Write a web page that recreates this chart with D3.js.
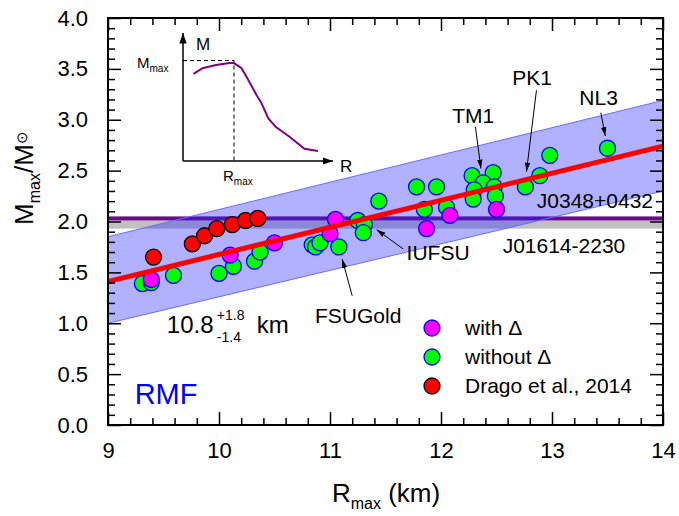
<!DOCTYPE html>
<html>
<head>
<meta charset="utf-8">
<script src="https://cdn.jsdelivr.net/npm/d3@7"></script>
<style>
  body { margin: 0; background: #fff; }
  svg text { font-family: Arial, "Liberation Sans", sans-serif; }
</style>
</head>
<body>
<svg id="chart" width="679" height="516"></svg>
<script>
// RMF models: [R_max (km), M_max/Msun]
var withDelta = [[9.39, 1.43], [10.10, 1.67], [10.50, 1.79], [11.00, 1.88], [11.05, 2.02],
    [11.87, 1.93], [12.08, 2.06], [12.50, 2.12]];
var withoutDelta = [[9.31, 1.39], [9.39, 1.40], [9.59, 1.47], [10.00, 1.49], [10.13, 1.56],
    [10.32, 1.61], [10.37, 1.70], [10.84, 1.77], [10.87, 1.75], [10.91, 1.79], [11.08, 1.75],
    [11.25, 2.01], [11.31, 1.97], [11.30, 1.89], [11.44, 2.20], [11.78, 2.34], [11.96, 2.34],
    [11.85, 2.12], [12.05, 2.14], [12.28, 2.45], [12.47, 2.48], [12.38, 2.38], [12.30, 2.31],
    [12.29, 2.22], [12.48, 2.34], [12.49, 2.25], [12.76, 2.34], [12.89, 2.45], [12.98, 2.65],
    [13.50, 2.72]];
var drago = [[9.41, 1.65], [9.76, 1.78], [9.87, 1.86], [9.98, 1.93], [10.12, 1.97],
    [10.24, 2.01], [10.35, 2.03]];

// linear fit and its band
var fitLine = [[9, 1.41], [14, 2.74]];
var bandUpper = [[9, 1.85], [14, 3.19]];
var bandLower = [[9, 1.00], [14, 2.30]];

// pulsar constraints (mass ranges)
var j1614 = [1.93, 2.01];
var j0348 = [2.01, 2.05];

// schematic M(R) curve for the inset, arbitrary units 0..10
var insetCurve = [[0.7, 6.8], [1.3, 7.25], [2.2, 7.5], [3.1, 7.65], [3.4, 7.65], [3.9, 7.25],
    [4.3, 6.45], [4.9, 5.15], [5.2, 4.6], [5.7, 3.3], [6.2, 2.65], [7.1, 1.9], [8.1, 0.95], [9.0, 0.78]];
var insetPeak = [3.4, 7.85];

var xMajor = [9, 10, 11, 12, 13, 14];
var yMajor = [0, 0.5, 1, 1.5, 2, 2.5, 3, 3.5, 4];

var svg = d3.select("#chart");
var x = d3.scaleLinear().domain([9, 14]).range([108, 663]);
var y = d3.scaleLinear().domain([0, 4]).range([425, 18]);

var defs = svg.append("defs");
defs.append("clipPath").attr("id", "clip").append("rect")
    .attr("x", 108).attr("y", 18).attr("width", 555).attr("height", 407);
defs.append("marker").attr("id", "arrow").attr("viewBox", "0 0 10 10")
    .attr("refX", 10).attr("refY", 5).attr("markerWidth", 7).attr("markerHeight", 7)
    .attr("orient", "auto").append("path").attr("d", "M0,1.5L10,5L0,8.5z").attr("fill", "#000");
defs.append("marker").attr("id", "bigarrow").attr("viewBox", "0 0 10 10")
    .attr("refX", 10).attr("refY", 5).attr("markerWidth", 9).attr("markerHeight", 9)
    .attr("markerUnits", "userSpaceOnUse")
    .attr("orient", "auto").append("path").attr("d", "M0,2L10,5L0,8z").attr("fill", "#000");

var plot = svg.append("g").attr("clip-path", "url(#clip)");

// horizontal constraints
plot.append("rect").attr("x", x(9)).attr("width", x(14) - x(9))
    .attr("y", y(j1614[1])).attr("height", y(j1614[0]) - y(j1614[1]))
    .attr("fill", "#c0c0c0");
plot.append("rect").attr("x", x(9)).attr("width", x(14) - x(9))
    .attr("y", y(j0348[1])).attr("height", y(j0348[0]) - y(j0348[1]))
    .attr("fill", "#6a0a8a");

// band
var band = bandUpper.concat(bandLower.slice().reverse());
plot.append("path")
    .attr("d", d3.line().x(function(d) { return x(d[0]); }).y(function(d) { return y(d[1]); })(band) + "Z")
    .attr("fill", "rgba(40,40,255,0.36)")
    .attr("stroke", "#6a6aff").attr("stroke-width", 1);

// points
function dots(data, fill, stroke) {
    plot.append("g").selectAll("circle")
        .data(data)
        .enter()
        .append("circle")
        .attr("cx", function(d) { return x(d[0]); })
        .attr("cy", function(d) { return y(d[1]); })
        .attr("r", 8)
        .attr("fill", fill)
        .attr("stroke", stroke)
        .attr("stroke-width", 1.3);
}
dots(withoutDelta, "#00ff00", "#0000ff");
dots(withDelta, "#ff00ff", "#0000ff");
dots(drago, "#ff0000", "#000");

// fit line
plot.append("path")
    .attr("d", d3.line().x(function(d) { return x(d[0]); }).y(function(d) { return y(d[1]); })(fitLine))
    .attr("stroke", "#ff0000").attr("stroke-width", 5).attr("fill", "none");

// axes, ticks pointing inward
var xMinor = d3.range(9, 14.001, 0.2).filter(function(v) { return Math.abs(v - Math.round(v)) > 0.01; });
var yMinor = d3.range(0, 4.001, 0.1).filter(function(v) { return Math.abs(v * 2 - Math.round(v * 2)) > 0.01; });

function axisGroup(axis, tx, ty) {
    var g = svg.append("g").attr("transform", "translate(" + tx + "," + ty + ")").call(axis);
    g.select(".domain").remove();
    g.selectAll("line").attr("stroke", "#000").attr("stroke-width", 1.5);
    return g;
}
axisGroup(d3.axisBottom(x).tickValues(xMajor).tickSize(-13).tickPadding(17).tickFormat(d3.format("d")), 0, 425)
    .selectAll("text").attr("font-size", 22).attr("fill", "#000");
axisGroup(d3.axisBottom(x).tickValues(xMinor).tickSize(-7).tickFormat(""), 0, 425);
axisGroup(d3.axisTop(x).tickValues(xMajor).tickSize(-13).tickFormat(""), 0, 18);
axisGroup(d3.axisTop(x).tickValues(xMinor).tickSize(-7).tickFormat(""), 0, 18);
axisGroup(d3.axisLeft(y).tickValues(yMajor).tickSize(-13).tickPadding(20).tickFormat(d3.format(".1f")), 108, 0)
    .selectAll("text").attr("font-size", 22).attr("fill", "#000");
axisGroup(d3.axisLeft(y).tickValues(yMinor).tickSize(-7).tickFormat(""), 108, 0);
axisGroup(d3.axisRight(y).tickValues(yMajor).tickSize(-13).tickFormat(""), 663, 0);
axisGroup(d3.axisRight(y).tickValues(yMinor).tickSize(-7).tickFormat(""), 663, 0);

svg.append("rect").attr("x", 108).attr("y", 18).attr("width", 555).attr("height", 407)
    .attr("fill", "none").attr("stroke", "#000").attr("stroke-width", 2);

// axis titles
var xt = svg.append("text").attr("x", 386).attr("y", 502).attr("text-anchor", "middle").attr("font-size", 26);
xt.append("tspan").text("R");
xt.append("tspan").attr("font-size", 16).attr("dy", 7).text("max");
xt.append("tspan").attr("dy", -7).text(" (km)");

var yt = svg.append("text").attr("transform", "translate(33,178) rotate(-90)")
    .attr("text-anchor", "middle").attr("font-size", 26);
yt.append("tspan").text("M");
yt.append("tspan").attr("font-size", 16).attr("dy", 7).text("max");
yt.append("tspan").attr("dy", -7).text("/M");
yt.append("tspan").attr("font-size", 15).attr("dy", -6).text("\u2299");

// annotations
function label(txt, r, m, anchor) {
    svg.append("text").attr("x", x(r)).attr("y", y(m)).attr("text-anchor", anchor || "start")
        .attr("font-size", 21).attr("fill", "#000").text(txt);
}
function pointer(r1, m1, r2, m2) {
    svg.append("line").attr("x1", x(r1)).attr("y1", y(m1)).attr("x2", x(r2)).attr("y2", y(m2))
        .attr("stroke", "#000").attr("stroke-width", 1).attr("marker-end", "url(#bigarrow)");
}
label("NL3", 13.42, 3.145, "middle"); pointer(13.44, 3.07, 13.48, 2.84);
label("PK1", 12.82, 3.34, "middle"); pointer(12.86, 3.29, 12.77, 2.49);
label("TM1", 12.29, 2.97, "middle"); pointer(12.31, 2.93, 12.36, 2.52);
label("J0348+0432", 13.91, 2.13, "end");
label("J01614-2230", 13.66, 1.69, "end");
label("IUFSU", 11.69, 1.62); pointer(11.66, 1.73, 11.42, 1.92);
label("FSUGold", 10.865, 1.0); pointer(11.20, 1.27, 11.11, 1.63);

var rad = svg.append("text").attr("x", x(9.53)).attr("y", y(0.9)).attr("font-size", 24).attr("fill", "#000");
rad.append("tspan").text("10.8");
svg.append("text").attr("x", x(9.53) + 50).attr("y", y(0.9) - 13).attr("font-size", 14).text("+1.8");
svg.append("text").attr("x", x(9.53) + 50).attr("y", y(0.9) + 9).attr("font-size", 14).text("-1.4");
svg.append("text").attr("x", x(9.53) + 90).attr("y", y(0.9)).attr("font-size", 24).text("km");

svg.append("text").attr("x", x(9.24)).attr("y", y(0.21)).attr("font-size", 29)
    .attr("fill", "#0000ff").text("RMF");

// legend
var legendItems = [
    {name: "with \u0394", fill: "#ff00ff", stroke: "#0000ff"},
    {name: "without \u0394", fill: "#00ff00", stroke: "#0000ff"},
    {name: "Drago et al., 2014", fill: "#ff0000", stroke: "#000"}
];
var lg = svg.append("g").attr("transform", "translate(432,328)");
lg.selectAll("circle").data(legendItems).enter().append("circle")
    .attr("cx", 0).attr("cy", function(d, i) { return i * 29; }).attr("r", 8)
    .attr("fill", function(d) { return d.fill; }).attr("stroke", function(d) { return d.stroke; })
    .attr("stroke-width", 1.3);
lg.selectAll("text").data(legendItems).enter().append("text")
    .attr("x", 33).attr("y", function(d, i) { return i * 29 + 7; })
    .attr("font-size", 21).text(function(d) { return d.name; });

// inset
var ix = d3.scaleLinear().domain([0, 10]).range([183, 333]);
var iy = d3.scaleLinear().domain([0, 10]).range([161, 33]);
var inset = svg.append("g");
inset.append("line").attr("x1", ix(0)).attr("y1", iy(0)).attr("x2", ix(0)).attr("y2", iy(10))
    .attr("stroke", "#000").attr("stroke-width", 1.5).attr("marker-end", "url(#arrow)");
inset.append("line").attr("x1", ix(0)).attr("y1", iy(0)).attr("x2", ix(10)).attr("y2", iy(0))
    .attr("stroke", "#000").attr("stroke-width", 1.5).attr("marker-end", "url(#arrow)");
inset.append("path")
    .attr("d", "M" + ix(0) + "," + iy(insetPeak[1]) + "H" + ix(insetPeak[0]) + "V" + iy(0))
    .attr("fill", "none").attr("stroke", "#000").attr("stroke-width", 1).attr("stroke-dasharray", "4,3");
inset.append("path")
    .attr("d", d3.line().x(function(d) { return ix(d[0]); }).y(function(d) { return iy(d[1]); })(insetCurve))
    .attr("fill", "none").attr("stroke", "#800080").attr("stroke-width", 2);
inset.append("text").attr("x", ix(0) + 13).attr("y", 50).attr("font-size", 17).text("M");
inset.append("text").attr("x", ix(10) + 7).attr("y", 172).attr("font-size", 17).text("R");
var im = inset.append("text").attr("x", 137).attr("y", 68).attr("font-size", 15);
im.append("tspan").text("M");
im.append("tspan").attr("font-size", 10).attr("dy", 4).text("max");
var ir = inset.append("text").attr("x", 223).attr("y", 181).attr("font-size", 15);
ir.append("tspan").text("R");
ir.append("tspan").attr("font-size", 10).attr("dy", 4).text("max");
</script>
</body>
</html>
